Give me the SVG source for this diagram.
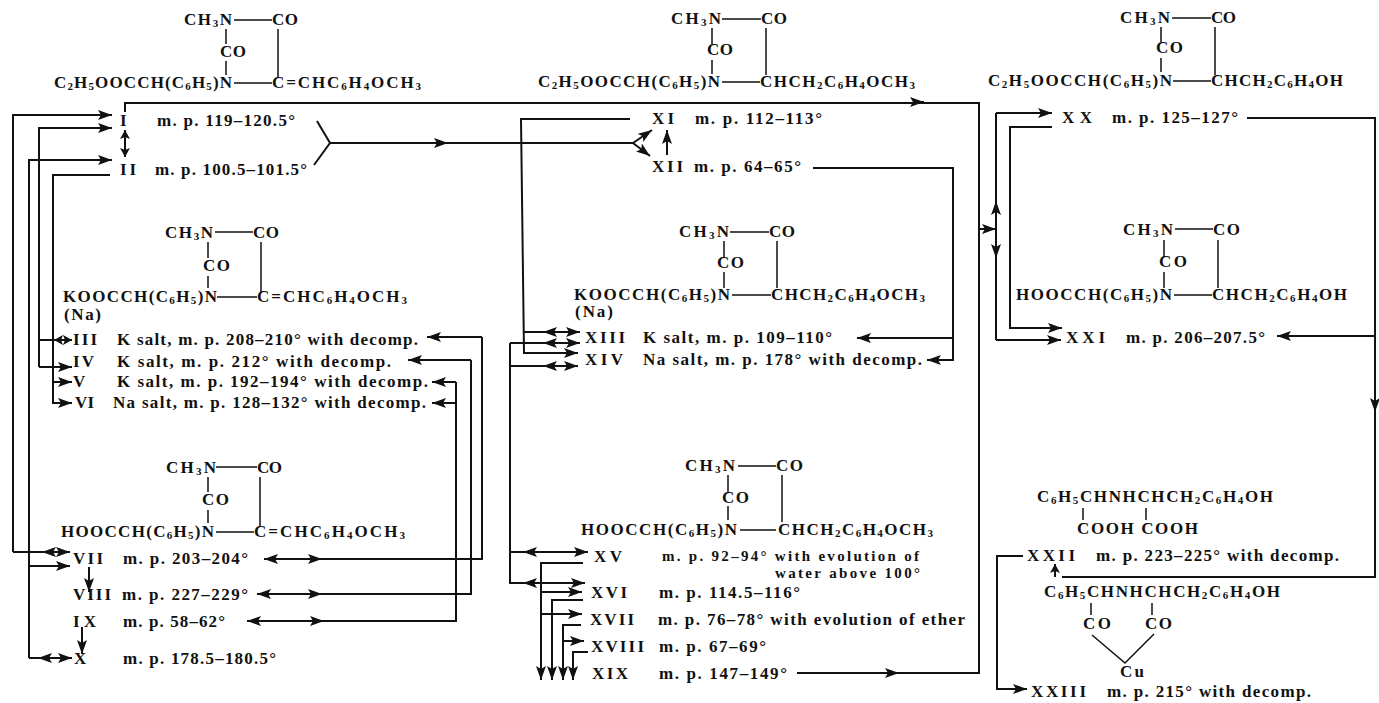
<svg xmlns="http://www.w3.org/2000/svg" width="1379" height="703" viewBox="0 0 1379 703">
<style>
text{font-family:"Liberation Serif","Times New Roman",serif;font-weight:700;font-size:17px;fill:#111}
.s{font-size:11px;baseline-shift:-2px}
.n{font-size:15px}
.b{fill:none;stroke:#111;stroke-width:1.5}
.c{fill:none;stroke:#111;stroke-width:2}
.e{marker-end:url(#ah)}
.f{marker-end:url(#as)}
</style>
<defs>
<marker id="ah" markerUnits="userSpaceOnUse" markerWidth="15" markerHeight="10" refX="14" refY="5" orient="auto"><path d="M0 0L14 5L0 10L3 5Z" fill="#111"/></marker>
<marker id="as" markerUnits="userSpaceOnUse" markerWidth="10" markerHeight="10" refX="9" refY="5" orient="auto"><path d="M0 0L9 5L0 10L2 5Z" fill="#111"/></marker>
</defs>
<rect width="1379" height="703" fill="#fff"/>
<g id="connectors">
<path class="c" d="M125 112V103H979V673H797"/>
<path class="c e" d="M920 102h4"/>
<path class="c e" d="M895 673h4"/>
<path class="c e" d="M980 229H996"/>
<path class="c" d="M996 113V340"/>
<path class="c e" d="M996 215V201"/>
<path class="c e" d="M996 244V258"/>
<path class="c e" d="M996 113H1052"/>
<path class="c e" d="M1052 127H1010V328H1062"/>
<path class="c e" d="M996 340H1061"/>
<path class="c" d="M1247 118H1375V577H1062"/>
<path class="c e" d="M1375 400V412"/>
<path class="c e" d="M1375 336H1277"/>
<path class="c f" d="M1055 577V564"/>
<path class="c e" d="M1023 556H997V689H1027"/>
<path class="c e" d="M13 552V115H112"/>
<path class="c e" d="M13 552H70"/>
<path class="c e" d="M56 552H42"/>
<path class="c e" d="M39 367V128H112"/>
<path class="c e" d="M39 367H72"/>
<path class="c f" d="M40 340H72"/>
<path class="c f" d="M64 340H54"/>
<path class="c e" d="M29 658V160H112"/>
<path class="c e" d="M30 566H70"/>
<path class="c e" d="M29 658H72"/>
<path class="c e" d="M56 658H38"/>
<path class="c e" d="M110 175H53V382H72"/>
<path class="c e" d="M53 382V403H72"/>
<path class="c f" d="M125 143V130"/>
<path class="c f" d="M125 143V157"/>
<path class="c" d="M317 121L330 143L314 165M330 143H633"/>
<path class="c e" d="M440 143h8"/>
<path class="c e" d="M633 143L652 130"/>
<path class="c e" d="M633 143L650 156"/>
<path class="c e" d="M667 155V130"/>
<path class="c e" d="M630 119H521L524 353H578"/>
<path class="c e" d="M524 332H580"/>
<path class="c e" d="M560 332H543"/>
<path class="c e" d="M510 343H580"/>
<path class="c e" d="M560 343H543"/>
<path class="c e" d="M510 343V583H585"/>
<path class="c e" d="M510 366H578"/>
<path class="c e" d="M560 366H543"/>
<path class="c e" d="M510 552H588"/>
<path class="c e" d="M540 552H523"/>
<path class="c e" d="M540 583H523"/>
<path class="c e" d="M583 563H541V680"/>
<path class="c e" d="M541 592H582"/>
<path class="c e" d="M583 600H552V680"/>
<path class="c e" d="M541 614H582"/>
<path class="c e" d="M581 625H563V680"/>
<path class="c e" d="M563 641H584"/>
<path class="c e" d="M588 652H573V680"/>
<path class="c e" d="M813 168H953V360H927"/>
<path class="c e" d="M953 338H857"/>
<path class="c e" d="M482 337H427"/>
<path class="c" d="M482 337V559H264"/>
<path class="c e" d="M278 559H264"/>
<path class="c e" d="M310 559H322"/>
<path class="c e" d="M471 360H408"/>
<path class="c" d="M471 360V594H257"/>
<path class="c e" d="M275 594H257"/>
<path class="c e" d="M310 594H322"/>
<path class="c e" d="M456 382H432"/>
<path class="c" d="M456 382V621H247"/>
<path class="c e" d="M265 621H247"/>
<path class="c e" d="M312 621H324"/>
<path class="c e" d="M456 403H432"/>
<path class="c e" d="M89 567V592"/>
<path class="c e" d="M82 627V654"/>
</g>
<g id="formula-ia">
<text x="184" y="25" textLength="48">CH<tspan class="s">3</tspan>N</text><text x="272" y="25" textLength="26">CO</text><text x="220" y="57" textLength="26">CO</text>
<text x="54" y="88" textLength="178">C<tspan class="s">2</tspan>H<tspan class="s">5</tspan>OOCCH(C<tspan class="s">6</tspan>H<tspan class="s">5</tspan>)N</text><text x="272" y="88" textLength="149">C=CHC<tspan class="s">6</tspan>H<tspan class="s">4</tspan>OCH<tspan class="s">3</tspan></text>
<path class="b" d="M234 20H272M226 29V44M226 61V75M278 29V77M234 83H272"/></g>
<g id="I"><text x="120" y="126">I</text><text x="157" y="126" textLength="138">m. p. 119–120.5°</text></g>
<g id="II"><text x="120" y="175" textLength="16">II</text><text x="155" y="175" textLength="152">m. p. 100.5–101.5°</text></g>
<g id="formula-iii">
<text x="165" y="238" textLength="48">CH<tspan class="s">3</tspan>N</text><text x="253" y="238" textLength="26">CO</text><text x="203" y="271" textLength="27">CO</text>
<text x="63" y="302" textLength="154">KOOCCH(C<tspan class="s">6</tspan>H<tspan class="s">5</tspan>)N</text><text x="257" y="302" textLength="150">C=CHC<tspan class="s">6</tspan>H<tspan class="s">4</tspan>OCH<tspan class="s">3</tspan></text><text x="64" y="320" textLength="37">(Na)</text>
<path class="b" d="M215 232H253M208 242V258M208 276V288M261 242V292M217 297H257"/></g>
<g id="III"><text x="73" y="345" textLength="24">III</text><text x="117" y="345" textLength="301">K salt, m. p. 208–210° with decomp.</text></g>
<g id="IV"><text x="73" y="367" textLength="21">IV</text><text x="117" y="367" textLength="274">K salt, m. p. 212° with decomp.</text></g>
<g id="V"><text x="73" y="387">V</text><text x="117" y="387" textLength="311">K salt, m. p. 192–194° with decomp.</text></g>
<g id="VI"><text x="75" y="408" textLength="19">VI</text><text x="113" y="408" textLength="313">Na salt, m. p. 128–132° with decomp.</text></g>
<g id="formula-vii">
<text x="166" y="473" textLength="50">CH<tspan class="s">3</tspan>N</text><text x="257" y="473" textLength="25">CO</text><text x="202" y="505" textLength="27">CO</text>
<text x="61" y="537" textLength="153">HOOCCH(C<tspan class="s">6</tspan>H<tspan class="s">5</tspan>)N</text><text x="254" y="537" textLength="151">C=CHC<tspan class="s">6</tspan>H<tspan class="s">4</tspan>OCH<tspan class="s">3</tspan></text>
<path class="b" d="M216 467H257M208 477V492M208 510V523M260 477V526M216 532H254"/></g>
<g id="VII"><text x="73" y="564" textLength="30">VII</text><text x="123" y="564" textLength="125">m. p. 203–204°</text></g>
<g id="VIII"><text x="73" y="600" textLength="38">VIII</text><text x="122" y="600" textLength="126">m. p. 227–229°</text></g>
<g id="IX"><text x="73" y="627" textLength="23">IX</text><text x="123" y="627" textLength="102">m. p. 58–62°</text></g>
<g id="X"><text x="74" y="664">X</text><text x="123" y="664" textLength="153">m. p. 178.5–180.5°</text></g>
<g id="formula-xi">
<text x="671" y="24" textLength="50">CH<tspan class="s">3</tspan>N</text><text x="761" y="24" textLength="26">CO</text><text x="707" y="55" textLength="26">CO</text>
<text x="538" y="87" textLength="182">C<tspan class="s">2</tspan>H<tspan class="s">5</tspan>OOCCH(C<tspan class="s">6</tspan>H<tspan class="s">5</tspan>)N</text><text x="760" y="87" textLength="155">CHCH<tspan class="s">2</tspan>C<tspan class="s">6</tspan>H<tspan class="s">4</tspan>OCH<tspan class="s">3</tspan></text>
<path class="b" d="M722 19H761M712 28V44M712 60V74M766 28V75M722 82H760"/></g>
<g id="XI"><text x="652" y="124" textLength="22">XI</text><text x="695" y="124" textLength="127">m. p. 112–113°</text></g>
<g id="XII"><text x="652" y="172" textLength="31">XII</text><text x="694" y="172" textLength="107">m. p. 64–65°</text></g>
<g id="formula-xiii">
<text x="679" y="237" textLength="50">CH<tspan class="s">3</tspan>N</text><text x="769" y="237" textLength="26">CO</text><text x="717" y="268" textLength="27">CO</text>
<text x="574" y="300" textLength="156">KOOCCH(C<tspan class="s">6</tspan>H<tspan class="s">5</tspan>)N</text><text x="771" y="300" textLength="154">CHCH<tspan class="s">2</tspan>C<tspan class="s">6</tspan>H<tspan class="s">4</tspan>OCH<tspan class="s">3</tspan></text><text x="575" y="317" textLength="38">(Na)</text>
<path class="b" d="M730 232H769M724 241V258M724 272V288M777 241V288M732 295H771"/></g>
<g id="XIII"><text x="585" y="343" textLength="40">XIII</text><text x="643" y="343" textLength="189">K salt, m. p. 109–110°</text></g>
<g id="XIV"><text x="585" y="365" textLength="38">XIV</text><text x="643" y="365" textLength="279">Na salt, m. p. 178° with decomp.</text></g>
<g id="formula-xv">
<text x="685" y="471" textLength="50">CH<tspan class="s">3</tspan>N</text><text x="776" y="471" textLength="27">CO</text><text x="722" y="503" textLength="27">CO</text>
<text x="581" y="535" textLength="156">HOOCCH(C<tspan class="s">6</tspan>H<tspan class="s">5</tspan>)N</text><text x="778" y="535" textLength="155">CHCH<tspan class="s">2</tspan>C<tspan class="s">6</tspan>H<tspan class="s">4</tspan>OCH<tspan class="s">3</tspan></text>
<path class="b" d="M738 466H776M728 475V492M728 506V520M782 475V522M740 530H776"/></g>
<g id="XV"><text x="594" y="562" textLength="28">XV</text><text class="n" x="662" y="561" textLength="257">m. p. 92–94° with evolution of</text><text class="n" x="775" y="578" textLength="145">water above 100°</text></g>
<g id="XVI"><text x="591" y="598" textLength="36">XVI</text><text x="659" y="598" textLength="141">m. p. 114.5–116°</text></g>
<g id="XVII"><text x="590" y="625" textLength="44">XVII</text><text x="658" y="625" textLength="307">m. p. 76–78° with evolution of ether</text></g>
<g id="XVIII"><text x="591" y="652" textLength="53">XVIII</text><text x="659" y="652" textLength="107">m. p. 67–69°</text></g>
<g id="XIX"><text x="592" y="679" textLength="36">XIX</text><text x="659" y="679" textLength="128">m. p. 147–149°</text></g>
<g id="formula-xx">
<text x="1120" y="23" textLength="50">CH<tspan class="s">3</tspan>N</text><text x="1211" y="23" textLength="25">CO</text><text x="1156" y="53" textLength="27">CO</text>
<text x="988" y="86" textLength="184">C<tspan class="s">2</tspan>H<tspan class="s">5</tspan>OOCCH(C<tspan class="s">6</tspan>H<tspan class="s">5</tspan>)N</text><text x="1211" y="86" textLength="132">CHCH<tspan class="s">2</tspan>C<tspan class="s">6</tspan>H<tspan class="s">4</tspan>OH</text>
<path class="b" d="M1172 18H1211M1161 27V42M1161 58V72M1215 27V75M1173 81H1211"/></g>
<g id="XX"><text x="1062" y="123" textLength="30">XX</text><text x="1112" y="123" textLength="126">m. p. 125–127°</text></g>
<g id="formula-xxi">
<text x="1123" y="235" textLength="50">CH<tspan class="s">3</tspan>N</text><text x="1213" y="235" textLength="27">CO</text><text x="1159" y="267" textLength="28">CO</text>
<text x="1016" y="300" textLength="156">HOOCCH(C<tspan class="s">6</tspan>H<tspan class="s">5</tspan>)N</text><text x="1212" y="300" textLength="135">CHCH<tspan class="s">2</tspan>C<tspan class="s">6</tspan>H<tspan class="s">4</tspan>OH</text>
<path class="b" d="M1175 229H1213M1164 240V257M1164 272V288M1218 240V288M1174 295H1212"/></g>
<g id="XXI"><text x="1066" y="343" textLength="39">XXI</text><text x="1126" y="343" textLength="139">m. p. 206–207.5°</text></g>
<g id="formula-xxii">
<text x="1037" y="502" textLength="236">C<tspan class="s">6</tspan>H<tspan class="s">5</tspan>CHNHCHCH<tspan class="s">2</tspan>C<tspan class="s">6</tspan>H<tspan class="s">4</tspan>OH</text>
<text x="1077" y="534" textLength="121">COOH COOH</text>
<path class="b" d="M1083 508V520M1146 508V520"/></g>
<g id="XXII"><text x="1027" y="561" textLength="48">XXII</text><text x="1096" y="561" textLength="243">m. p. 223–225° with decomp.</text></g>
<g id="formula-xxiii">
<text x="1044" y="597" textLength="236">C<tspan class="s">6</tspan>H<tspan class="s">5</tspan>CHNHCHCH<tspan class="s">2</tspan>C<tspan class="s">6</tspan>H<tspan class="s">4</tspan>OH</text>
<text x="1083" y="629" textLength="28">CO</text><text x="1145" y="629" textLength="27">CO</text><text x="1120" y="677" textLength="24">Cu</text>
<path class="b" d="M1091 603V615M1152 603V615M1092 635L1125 663L1154 634"/></g>
<g id="XXIII"><text x="1031" y="697" textLength="55">XXIII</text><text x="1107" y="697" textLength="204">m. p. 215° with decomp.</text></g>
</svg>
